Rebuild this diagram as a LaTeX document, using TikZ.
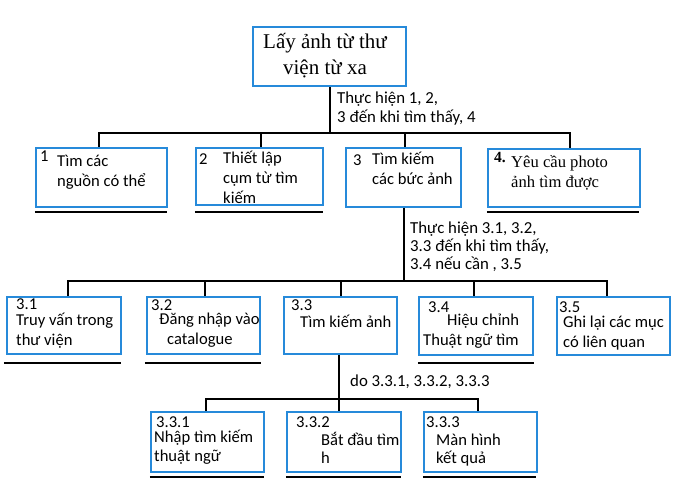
\documentclass[tikz,border=0pt]{standalone}
\usepackage{fontspec}
\setmainfont{Liberation Serif}
\newfontfamily\sansf{Carlito}
\usetikzlibrary{calc}
\definecolor{boxblue}{RGB}{38,138,218}
\tikzset{
  box/.style={draw=boxblue, line width=2.2pt, fill=white, inner sep=0pt},
  conn/.style={draw=black, line width=2pt},
  uline/.style={draw=black, line width=2pt},
  txt/.style={inner sep=0pt, anchor=west, align=left, font=\sansf\fontsize{16.6}{20}\selectfont},
  lbl/.style={inner sep=0pt, anchor=west, align=left, font=\sansf\fontsize{16.8}{17}\selectfont},
  serift/.style={inner sep=0pt, anchor=west, align=left, font=\fontsize{16.6}{20}\selectfont},
}
\begin{document}
\begin{tikzpicture}[x=1pt,y=-1pt]
\useasboundingbox (0,0) rectangle (677,483);
\fill[white] (0,0) rectangle (677,483);
% boxes
\node[box, minimum width=153pt, minimum height=59pt] (top) at (329.5,56.5) {};
\node[box, minimum width=131pt, minimum height=59pt] (b1) at (101.5,177.5) {};
\node[box, minimum width=127pt, minimum height=57pt] (b2) at (259.5,176.5) {};
\node[box, minimum width=115pt, minimum height=59pt] (b3) at (403.5,177.5) {};
\node[box, minimum width=152pt, minimum height=58pt] (b4) at (564,178) {};
\node[box, minimum width=114pt, minimum height=57pt] (c31) at (64,325.5) {};
\node[box, minimum width=113pt, minimum height=57pt] (c32) at (203.5,325.5) {};
\node[box, minimum width=113pt, minimum height=57pt] (c33) at (340.5,325.5) {};
\node[box, minimum width=114pt, minimum height=58pt] (c34) at (476,326) {};
\node[box, minimum width=113pt, minimum height=58pt] (c35) at (613.5,326) {};
\node[box, minimum width=113pt, minimum height=60pt] (d1) at (207.5,442) {};
\node[box, minimum width=114pt, minimum height=60pt] (d2) at (344,442) {};
\node[box, minimum width=113pt, minimum height=60pt] (d3) at (480.5,442) {};
% bus coordinates
\coordinate (j1) at (329,133);
\coordinate (j2) at (403,281);
\coordinate (j3) at (340,399);
% level 1 connectors
\draw[conn] (top.south) -- (top.south |- j1);
\draw[conn] ([xshift=-3pt]b1.north) -- ([xshift=-3pt]b1.north |- j1) -- ([xshift=6pt]b4.north |- j1) -- ([xshift=6pt]b4.north);
\draw[conn] ([xshift=1.5pt]b2.north) -- ([xshift=1.5pt]b2.north |- j1);
\draw[conn] ([xshift=1.5pt]b3.north) -- ([xshift=1.5pt]b3.north |- j1);
% level 2 connectors
\draw[conn] (b3.south) -- (b3.south |- j2);
\draw[conn] ([xshift=4pt]c31.north) -- ([xshift=4pt]c31.north |- j2) -- ([xshift=-6.5pt]c35.north |- j2) -- ([xshift=-6.5pt]c35.north);
\draw[conn] ([xshift=1.5pt]c32.north) -- ([xshift=1.5pt]c32.north |- j2);
\draw[conn] (c33.north) -- (c33.north |- j2);
\draw[conn] ([xshift=-2pt]c34.north) -- ([xshift=-2pt]c34.north |- j2);
% level 3 connectors
\draw[conn] ([xshift=-2pt]c33.south) -- ([xshift=-2pt]c33.south |- d2.north);
\draw[conn] ([xshift=-1.5pt]d1.north) -- ([xshift=-1.5pt]d1.north |- j3) -- ([xshift=-2.5pt]d3.north |- j3) -- ([xshift=-2.5pt]d3.north);
% underlines
\draw[uline] ($(b1.south west)+(0,4)$) -- ($(b1.south east)+(-1,4)$);
\draw[uline] ($(b2.south west)+(0,6)$) -- ($(b2.south east)+(-1,6)$);
\draw[uline] ($(b4.south west)+(0,4)$) -- ($(b4.south east)+(-2,4)$);
\draw[uline] ($(c31.south west)+(-2,8)$) -- ($(c31.south east)+(-1,8)$);
\draw[uline] ($(c32.south west)+(-1,8)$) -- ($(c32.south east)+(0,8)$);
\draw[uline] ($(c34.south west)+(0,7)$) -- ($(c34.south east)+(0,7)$);
\draw[uline] ($(d1.south west)+(0,3.5)$) -- ($(d1.south east)+(-1,3.5)$);
\draw[uline] ($(d2.south west)+(0,3.5)$) -- ($(d2.south east)+(-1,3.5)$);
\draw[uline] ($(d3.south west)+(0,3.5)$) -- ($(d3.south east)+(-2,3.5)$);
% texts
\node[inner sep=0pt, align=center, font=\fontsize{21}{26}\selectfont] (ttop) at (325,56) {\strut Lấy ảnh từ thư\\\strut viện từ xa};
\node[lbl] (lab1) at (337,109.5) {\strut Thực hiện 1, 2,\\\strut 3 đến khi tìm thấy, 4};
\node[lbl, font=\sansf\fontsize{16.8}{15.5}\selectfont] (lab2) at (410,248) {\strut Thực hiện 3.1, 3.2,\\\strut 3.3 đến khi tìm thấy,\\\strut 3.4 nếu cần , 3.5};
\node[lbl] (lab3) at (350,382) {do 3.3.1, 3.3.2, 3.3.3};
\node[txt] (n1) at (40,156) {1};
\node[txt] (t1) at (57,172) {\strut Tìm các\\\strut nguồn có thể};
\node[txt] (n2) at (199,159) {2};
\node[txt, font=\sansf\fontsize{16.6}{20}\selectfont] (t2) at (223,179) {\strut Thiết lập\\\strut cụm từ tìm\\\strut kiếm};
\node[txt] (n3) at (353,160) {3};
\node[txt] (t3) at (372,170) {\strut Tìm kiếm\\\strut các bức ảnh};
\node[serift, font=\bfseries\fontsize{15.5}{20}\selectfont] (n4) at (494,158) {4.};
\node[serift] (t4) at (511,173) {\strut Yêu cầu photo\\\strut ảnh tìm được};
\node[txt] (m31) at (16,304) {3.1};
\node[txt] (u31) at (16,331) {\strut Truy vấn trong\\\strut thư viện};
\node[txt] (m32) at (151,305) {3.2};
\node[txt] (u32) at (159,330.5) {\strut Đăng nhập vào\\\strut\hspace*{8pt}catalogue};
\node[txt] (m33) at (291,305) {3.3};
\node[txt] (u33) at (300,321) {Tìm kiếm ảnh};
\node[txt] (m34) at (428,307) {3.4};
\node[txt] (u34) at (423,331) {\strut\hspace*{24pt}Hiệu chỉnh\\\strut Thuật ngữ tìm};
\node[txt] (m35) at (559,307) {3.5};
\node[txt] (u35) at (563,333) {\strut Ghi lại các mục\\\strut có liên quan};
\node[txt] (p1) at (156,422) {3.3.1};
\node[txt, font=\sansf\fontsize{16.6}{19}\selectfont] (q1) at (154,448.5) {\strut Nhập tìm kiếm\\\strut thuật ngữ};
\node[txt] (p2) at (296,422) {3.3.2};
\node[txt, font=\sansf\fontsize{16.6}{17.5}\selectfont] (q2) at (321,450.5) {\strut Bắt đầu tìm\\\strut h};
\node[txt] (p3) at (426,422) {3.3.3};
\node[txt, font=\sansf\fontsize{16.6}{18}\selectfont] (q3) at (436,451) {\strut Màn hình\\\strut kết quả};
\end{tikzpicture}
\end{document}
